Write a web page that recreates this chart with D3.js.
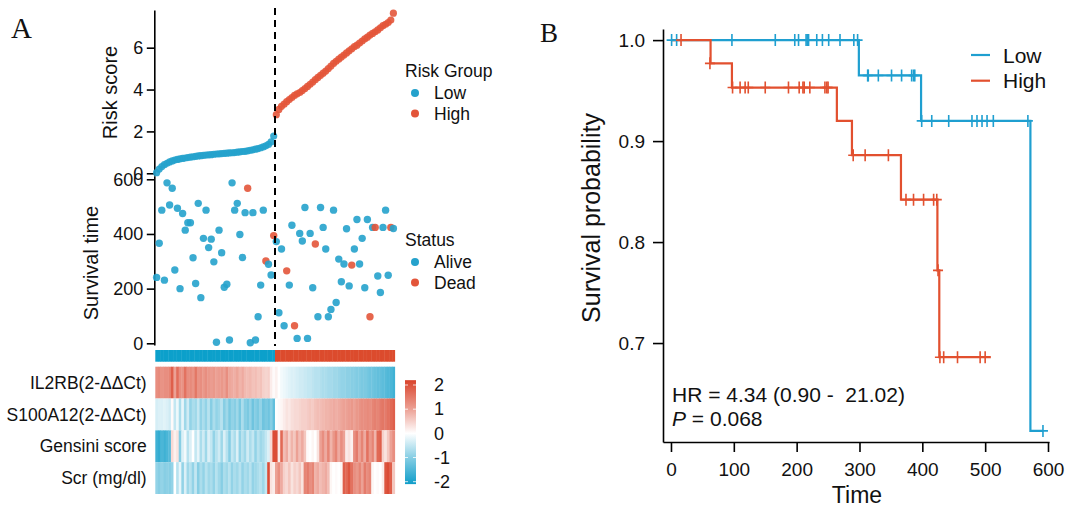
<!DOCTYPE html>
<html>
<head>
<meta charset="utf-8">
<script src="https://d3js.org/d3.v7.min.js"></script>
<style>
body { margin: 0; background: #fff; }
svg text { font-family: "Liberation Sans", Arial, sans-serif; fill: #111; }
.panel-letter { font-family: "Liberation Serif", "Times New Roman", serif; }
</style>
</head>
<body>
<svg id="chart" width="1070" height="508"></svg>
<script>
// ---- panel A: patients sorted by risk score (46 low, 46 high) ----
var riskLow = [0.03,0.2,0.32,0.41,0.48,0.54,0.59,0.63,0.66,0.69,
  0.71,0.73,0.75,0.77,0.79,0.81,0.83,0.84,0.86,0.87,
  0.88,0.89,0.91,0.92,0.93,0.94,0.95,0.96,0.97,0.98,
  0.99,1.01,1.02,1.04,1.05,1.07,1.1,1.12,1.15,1.18,
  1.22,1.26,1.31,1.38,1.5,1.78];
var riskHigh = [2.8,3.05,3.2,3.3,3.42,3.52,3.62,3.72,3.8,3.86,
  3.95,4.05,4.15,4.25,4.36,4.47,4.58,4.68,4.78,4.88,
  5.0,5.12,5.25,5.35,5.45,5.55,5.65,5.75,5.85,5.95,
  6.05,6.12,6.22,6.32,6.42,6.5,6.6,6.68,6.76,6.85,
  6.95,7.05,7.12,7.2,7.32,7.65];

var timeLow = [241,366,487,231,587,506,567,268,494,200,
  475,414,441,441,313,219,512,167,384,487,
  350,381,298,4,414,331,205,216,12,587,
  487,512,398,314,478,567,2,478,12,97,
  213,487,301,289,250,394];
var timeHigh = [372,112,345,64,265,213,432,64,18,402,
  374,497,18,402,203,363,97,497,424,345,
  97,124,487,149,308,225,290,419,210,286,
  345,453,290,384,203,453,97,424,424,246,
  186,424,487,249,424,420];
// 1 = dead, 0 = alive
var deadLow = [0,0,0,0,0,0,0,0,0,0, 0,0,0,0,0,0,0,0,0,0, 0,0,0,0,0,0,0,0,0,0,
  0,0,0,0,0,1,0,0,0,0, 0,0,1,0,0,1];
var deadHigh = [0,0,0,0,1,0,0,1,0,0, 0,0,0,0,0,1,0,0,0,0, 0,0,0,0,0,0,0,0,0,1,
  0,0,0,0,0,0,1,0,1,0, 0,0,0,0,1,0];

var heatRows = ["IL2RB(2-\u0394\u0394Ct)", "S100A12(2-\u0394\u0394Ct)", "Gensini score", "Scr (mg/dl)"];
var il2rbLow = [1.2,1.25,1.15,1.2,1.2,1.3,1.7,1.0,1.55,1.2,1.15,1.5,1.2,1.25,1.15,1.45,
  1.15,1.2,1.1,1.2,1.1,1.05,1.1,1.0,1.05,1.1,1.0,1.2,0.95,0.9,0.85,0.95,0.8,0.9,0.75,
  0.7,0.75,0.65,0.7,0.6,0.65,0.5,0.45,0.5,0.2,0.05];
var il2rbHigh = [0.15,0.0,-0.1,-0.15,-0.2,-0.25,-0.3,-0.3,-0.35,-0.4,
  -0.4,-0.45,-0.5,-0.5,-0.55,-0.6,-0.6,-0.65,-0.7,-0.7,
  -0.75,-0.75,-0.8,-0.8,-0.85,-0.9,-0.9,-0.95,-0.95,-1.0,
  -1.0,-1.05,-1.05,-1.1,-1.1,-1.15,-1.2,-1.2,-1.25,-1.3,
  -1.3,-1.35,-1.4,-1.45,-1.5,-1.6];
var s100Low = [-0.35,-0.3,-0.3,-0.25,-0.3,-0.4,
  0.05,-0.5,-0.15,-0.7,-0.2,-0.8,-0.4,-0.9,-0.7,-0.8,
  -0.5,-0.9,-0.7,-0.9,-0.6,-1.0,-0.7,-0.9,-0.8,-0.6,
  -1.0,-0.8,-1.1,-0.9,-1.0,-0.8,-1.1,-0.7,-1.0,-1.1,
  -0.9,-1.2,-1.0,-1.1,-0.9,-1.2,-1.1,-1.2,-1.0,-1.3];
var s100High = [0.0,0.05,0.1,0.2,0.3,0.25,0.35,0.4,0.4,0.45,
  0.5,0.5,0.55,0.6,0.55,0.65,0.7,0.7,0.75,0.8,
  0.8,0.85,0.9,0.85,0.9,0.95,1.0,1.0,1.05,1.1,
  1.0,1.1,1.15,1.2,1.2,1.25,1.2,1.3,1.35,1.3,
  1.4,1.45,1.4,1.5,1.6,1.7];
var gensiniLow = [-1.6,-1.7,-1.5,-1.6,-1.5,-1.4,
  0.4,0.15,0.3,-1.0,-0.3,-0.1,-0.6,-0.3,0.0,-0.5,
  -0.2,-0.7,-0.4,-0.8,-0.3,-0.5,-0.9,-0.6,-0.4,-0.8,
  -0.3,-0.6,-1.0,-0.5,-0.7,-0.3,-0.9,-0.6,-0.8,-0.4,
  -0.7,-0.5,-0.9,-0.6,-0.8,-0.7,-0.5,-0.3,0.4,1.9];
var gensiniHigh = [1.9,0.2,1.6,0.7,0.9,0.5,0.8,0.6,1.0,0.7,
  0.9,0.6,0.05,0.0,0.1,0.0,0.3,1.0,1.2,0.9,
  1.3,0.8,1.1,1.3,0.9,1.2,1.0,0.2,0.3,0.15,
  1.2,1.4,1.0,1.3,0.9,1.5,1.1,1.3,0.8,1.6,
  1.7,0.5,0.3,0.6,1.0,1.2];
var scrLow = [-0.9,-1.0,-0.9,-1.0,-0.95,-1.0,-0.9,
  0.0,-0.6,-0.2,
  -0.9,-0.3,-0.8,-0.6,-0.9,-0.5,-1.0,-0.7,-0.9,-0.6,
  -0.8,-0.7,-0.9,-0.6,-0.8,-1.0,-0.7,-0.8,-0.6,-0.9,
  -0.7,-0.8,-0.6,-0.9,-0.7,-0.8,-0.6,-0.9,-0.8,-0.7,
  -0.6,-0.8,-0.5,1.9,0.3,0.2];
var scrHigh = [1.0,1.2,0.9,0.5,0.4,0.6,0.3,0.5,0.4,0.6,
  0.3,1.3,1.4,1.2,1.3,0.8,0.9,0.7,0.8,0.9,
  0.7,0.1,0.0,0.05,0.0,0.1,1.7,1.6,1.8,1.5,
  1.2,1.1,1.3,1.0,1.4,1.2,1.3,0.1,0.0,0.05,
  0.0,0.2,1.8,1.9,1.7,0.6];
var riskTicks = [0, 2, 4, 6];
var timeTicks = [0, 200, 400, 600];
var heatTicks = [-2, -1, 0, 1, 2];

// ---- panel B: Kaplan-Meier steps [time, survival] and censor times ----
var kmLowSteps = [[0,1.0],[299,0.965],[398,0.92],[572,0.613],[592,0.613]];
var kmHighSteps = [[0,1.0],[63,0.977],[97,0.953],[264,0.92],[288,0.886],[366,0.842],[424,0.772],[427,0.686],[509,0.686]];
var kmLowCensor = [[1,1.0],[9,1.0],[97,1.0],[166,1.0],[197,1.0],[203,1.0],[215,1.0],[217,1.0],[219,1.0],
  [232,1.0],[241,1.0],[251,1.0],[269,1.0],[291,1.0],[297,1.0],
  [313,0.965],[314,0.965],[330,0.965],[351,0.965],[367,0.965],[383,0.965],[386,0.965],[388,0.965],
  [399,0.92],[415,0.92],[442,0.92],[479,0.92],[487,0.92],[495,0.92],[503,0.92],[513,0.92],[568,0.92],
  [592,0.613]];
var kmHighCensor = [[16,1.0],[62,0.977],
  [98,0.953],[110,0.953],[118,0.953],[123,0.953],[150,0.953],[187,0.953],[204,0.953],[210,0.953],
  [212,0.953],[221,0.953],[245,0.953],[248,0.953],[250,0.953],
  [290,0.886],[309,0.886],[346,0.886],
  [374,0.842],[386,0.842],[402,0.842],[418,0.842],[423,0.842],
  [425,0.772],
  [428,0.686],[434,0.686],[456,0.686],[492,0.686],[500,0.686]];
var kmTimeTicks = [0,100,200,300,400,500,600];
var kmProbTicks = [0.7,0.8,0.9,1.0];

var blue = "#25a2cc", red = "#e3553a";
var kmBlue = "#1f9fd0", kmRed = "#e2502f";

var svg = d3.select("#chart");

// ================= panel A =================
var risk = riskLow.concat(riskHigh);
var times = timeLow.concat(timeHigh);
var dead = deadLow.concat(deadHigh);
var n = risk.length, nLow = riskLow.length;

var x = d3.scaleBand().domain(d3.range(n)).range([155.3, 394.7]).padding(0);
var cx = function(i) { return x(i) + x.bandwidth() / 2; };

var yRisk = d3.scaleLinear().domain([-0.13, 7.8]).range([176, 10]);
var yTime = d3.scaleLinear().domain([-6.2, 612]).range([345, 176]);

function styleAxis(g, fs) {
  g.select(".domain").attr("stroke", "#000").attr("stroke-width", 1.6);
  g.selectAll(".tick line").attr("stroke", "#000").attr("stroke-width", 1.6);
  g.selectAll(".tick text").attr("font-size", fs).attr("fill", "#111")
    .attr("font-family", "'Liberation Sans', Arial, sans-serif");
}

var axRisk = svg.append("g").attr("transform", "translate(154.3,0)")
  .call(d3.axisLeft(yRisk).tickValues(riskTicks).tickSize(7.5).tickPadding(3.5).tickSizeOuter(0));
styleAxis(axRisk, 18);
var axTime = svg.append("g").attr("transform", "translate(154.3,0)")
  .call(d3.axisLeft(yTime).tickValues(timeTicks).tickSize(7.5).tickPadding(3.5).tickSizeOuter(0));
styleAxis(axTime, 18);

svg.append("text").attr("transform", "translate(117,92.5) rotate(-90)")
  .attr("text-anchor", "middle").attr("font-size", 20).text("Risk score");
svg.append("text").attr("transform", "translate(97.5,263) rotate(-90)")
  .attr("text-anchor", "middle").attr("font-size", 20).text("Survival time");

// risk score points
svg.append("g").selectAll("circle").data(risk).enter().append("circle")
  .attr("cx", function(d, i) { return cx(i); })
  .attr("cy", function(d) { return yRisk(d); })
  .attr("r", 3.6)
  .attr("fill", function(d, i) { return i < nLow ? blue : red; })
  .attr("fill-opacity", 0.9);

// survival time points
svg.append("g").selectAll("circle").data(times).enter().append("circle")
  .attr("cx", function(d, i) { return cx(i); })
  .attr("cy", function(d) { return yTime(d); })
  .attr("r", 3.7)
  .attr("fill", function(d, i) { return dead[i] ? red : blue; })
  .attr("fill-opacity", 0.9);

// cut-off line
svg.append("line")
  .attr("x1", x(nLow)).attr("x2", x(nLow)).attr("y1", 8).attr("y2", 346)
  .attr("stroke", "#000").attr("stroke-width", 2).attr("stroke-dasharray", "7,5");

// legends
function dotLegend(title, y0, labels, colors) {
  var g = svg.append("g");
  g.append("text").attr("x", 405).attr("y", y0).attr("font-size", 17.5).text(title);
  labels.forEach(function(l, k) {
    var yy = y0 + 16 + k * 20.5;
    g.append("circle").attr("cx", 415).attr("cy", yy).attr("r", 4).attr("fill", colors[k]);
    g.append("text").attr("x", 434).attr("y", yy).attr("dy", "0.35em").attr("font-size", 17.5).text(l);
  });
}
dotLegend("Risk Group", 77, ["Low", "High"], [blue, red]);
dotLegend("Status", 246, ["Alive", "Dead"], [blue, red]);

// group annotation bar
svg.append("g").selectAll("rect").data(d3.range(n)).enter().append("rect")
  .attr("x", function(i) { return x(i); }).attr("y", 350)
  .attr("width", x.bandwidth() + 0.4).attr("height", 11.7)
  .attr("fill", function(i) { return i < nLow ? "#0ca0cb" : "#dc4b2d"; });

// heatmap
var heat = [il2rbLow.concat(il2rbHigh), s100Low.concat(s100High),
            gensiniLow.concat(gensiniHigh), scrLow.concat(scrHigh)];
var color = d3.scaleLinear().domain([-2, 0, 2]).range(["#0f9dc9", "#ffffff", "#d9432b"]).clamp(true);
var yRow = d3.scaleBand().domain(d3.range(heatRows.length)).range([366.7, 494]);

heat.forEach(function(row, r) {
  svg.append("g").selectAll("rect").data(row).enter().append("rect")
    .attr("x", function(d, i) { return x(i); })
    .attr("y", yRow(r))
    .attr("width", x.bandwidth() + 0.4)
    .attr("height", yRow.bandwidth())
    .attr("fill", function(d) { return color(d); });
  svg.append("text").attr("x", 146.7).attr("y", yRow(r) + yRow.bandwidth() / 2)
    .attr("dy", "0.35em").attr("text-anchor", "end").attr("font-size", 17.5).text(heatRows[r]);
});

// colour bar
var yBar = d3.scaleLinear().domain([-2, 2]).range([481.7, 385]);
var defs = svg.append("defs");
var grad = defs.append("linearGradient").attr("id", "hgrad")
  .attr("x1", 0).attr("y1", 1).attr("x2", 0).attr("y2", 0);
[-2.1, -1, 0, 1, 2.2].forEach(function(v, k) {
  grad.append("stop").attr("offset", (v + 2.1) / 4.3).attr("stop-color", color(v));
});
svg.append("rect").attr("x", 405).attr("y", yBar(2.2)).attr("width", 11)
  .attr("height", yBar(-2.1) - yBar(2.2)).attr("fill", "url(#hgrad)");
var bar = svg.append("g");
heatTicks.forEach(function(t) {
  bar.append("line").attr("x1", 405).attr("x2", 408).attr("y1", yBar(t)).attr("y2", yBar(t))
    .attr("stroke", "#fff").attr("stroke-opacity", 0.8);
  bar.append("line").attr("x1", 413).attr("x2", 416).attr("y1", yBar(t)).attr("y2", yBar(t))
    .attr("stroke", "#fff").attr("stroke-opacity", 0.8);
  bar.append("text").attr("x", 434).attr("y", yBar(t)).attr("dy", "0.35em")
    .attr("font-size", 18).text(t);
});

svg.append("text").attr("class", "panel-letter").attr("x", 11).attr("y", 38)
  .attr("font-size", 29).text("A");

// ================= panel B =================
var kx = d3.scaleLinear().domain([-12.7, 601.6]).range([663, 1049]);
var ky = d3.scaleLinear().domain([0.602, 1.011]).range([442, 29]);

var axKy = svg.append("g").attr("transform", "translate(663,0)")
  .call(d3.axisLeft(ky).tickValues(kmProbTicks).tickFormat(d3.format(".1f"))
    .tickSize(10).tickPadding(8).tickSizeOuter(0));
styleAxis(axKy, 19);
var axKx = svg.append("g").attr("transform", "translate(0,442)")
  .call(d3.axisBottom(kx).tickValues(kmTimeTicks).tickSize(10).tickPadding(11).tickSizeOuter(0));
styleAxis(axKx, 19);

svg.append("text").attr("transform", "translate(600,218) rotate(-90)")
  .attr("text-anchor", "middle").attr("font-size", 25).text("Survival probability");
svg.append("text").attr("x", 857).attr("y", 503)
  .attr("text-anchor", "middle").attr("font-size", 23).text("Time");

var step = d3.line().x(function(d) { return kx(d[0]); }).y(function(d) { return ky(d[1]); })
  .curve(d3.curveStepAfter);

svg.append("path").datum(kmLowSteps).attr("d", step)
  .attr("fill", "none").attr("stroke", kmBlue).attr("stroke-width", 2.2);
svg.append("path").datum(kmHighSteps).attr("d", step)
  .attr("fill", "none").attr("stroke", kmRed).attr("stroke-width", 2.2);

function censor(data, col) {
  svg.append("g").selectAll("path").data(data).enter().append("path")
    .attr("d", function(d) {
      var px = kx(d[0]), py = ky(d[1]);
      return "M" + (px - 5) + "," + py + "H" + (px + 5) + "M" + px + "," + (py - 6) + "V" + (py + 6);
    })
    .attr("fill", "none").attr("stroke", col).attr("stroke-width", 1.6);
}
censor(kmLowCensor, kmBlue);
censor(kmHighCensor, kmRed);

// legend
[["Low", kmBlue], ["High", kmRed]].forEach(function(l, k) {
  var yy = 55 + k * 25.7;
  svg.append("line").attr("x1", 971).attr("x2", 990).attr("y1", yy).attr("y2", yy)
    .attr("stroke", l[1]).attr("stroke-width", 2.2);
  svg.append("text").attr("x", 1003).attr("y", yy).attr("dy", "0.36em")
    .attr("font-size", 21).text(l[0]);
});

svg.append("text").attr("x", 672).attr("y", 402).attr("font-size", 21)
  .style("white-space", "pre").text("HR = 4.34 (0.90 -  21.02)");
var pt = svg.append("text").attr("x", 672).attr("y", 426).attr("font-size", 21);
pt.append("tspan").attr("font-style", "italic").text("P");
pt.append("tspan").text(" = 0.068");

svg.append("text").attr("class", "panel-letter").attr("x", 540).attr("y", 42)
  .attr("font-size", 27).text("B");
</script>
</body>
</html>
